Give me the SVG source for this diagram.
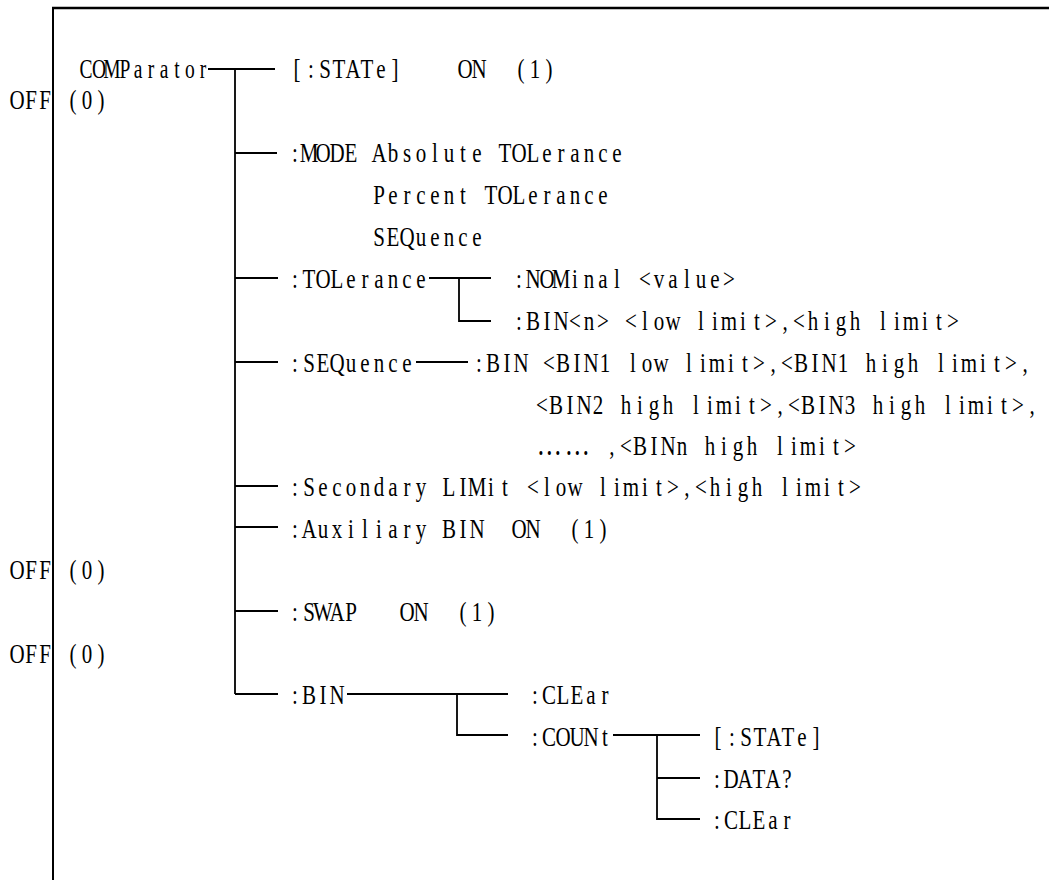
<svg xmlns="http://www.w3.org/2000/svg" width="1049" height="880" viewBox="0 0 1049 880">
<style>
.t{font-family:'Liberation Serif','Noto Sans CJK SC',serif;font-size:27px;fill:#000;text-anchor:middle}
.cjk{font-family:'Noto Sans CJK SC',sans-serif;font-size:29px}
.c{stroke:#000;stroke-width:1.8;fill:none}
.b{stroke:#000;fill:none}
</style>
<rect width="1049" height="880" fill="#fff"/>
<g id="frame">
<path class="b" stroke-width="2.4" d="M52 8H1049"/>
<path class="b" stroke-width="2" d="M53 7V880"/>
</g>
<g id="connectors">
<path class="c" d="M208 69H275M235 69V694M235 153H277M235 278H278M235 362H278M235 486H278M235 527H278M235 611H278M235 694H278"/>
<path class="c" d="M429 278H491M459 278V321H491"/>
<path class="c" d="M416 362H468"/>
<path class="c" d="M347 694H508M457 694V735H508"/>
<path class="c" d="M613 735H700M657 735V819H700M657 778H700"/>
</g>
<g id="comparator"><text class="t" xml:space="preserve" transform="translate(79.5 78) scale(0.7222 1)" x="9 27 45 63 81 99 117 135 153 171">COMParator</text></g>
<g id="state"><text class="t" xml:space="preserve" transform="translate(290 78) scale(0.7778 1)" x="9 27 45 63 81 99 117 135 153 171 189 207 225 243 261 279 297 315 333 351">[:STATe]    ON  (1)</text></g>
<g id="off1"><text class="t" xml:space="preserve" transform="translate(10 109) scale(0.7778 1)" x="9 27 45 63 81 99 117">OFF (0)</text></g>
<g id="mode">
<text class="t" xml:space="preserve" transform="translate(288 162) scale(0.7778 1)" x="9 27 45 63 81 99 117 135 153 171 189 207 225 243 261 279 297 315 333 351 369 387 405 423">:MODE Absolute TOLerance</text>
<text class="t" xml:space="preserve" transform="translate(372 204) scale(0.7778 1)" x="9 27 45 63 81 99 117 135 153 171 189 207 225 243 261 279 297">Percent TOLerance</text>
<text class="t" xml:space="preserve" transform="translate(372 246) scale(0.7778 1)" x="9 27 45 63 81 99 117 135">SEQuence</text>
</g>
<g id="tolerance"><text class="t" xml:space="preserve" transform="translate(288 288) scale(0.7778 1)" x="9 27 45 63 81 99 117 135 153 171">:TOLerance</text></g>
<g id="nominal"><text class="t" xml:space="preserve" transform="translate(512 288) scale(0.7778 1)" x="9 27 45 63 81 99 117 135 153 171 189 207 225 243 261 279">:NOMinal &lt;value&gt;</text></g>
<g id="tol-bin"><text class="t" xml:space="preserve" transform="translate(512 330) scale(0.7778 1)" x="9 27 45 63 81 99 117 135 153 171 189 207 225 243 261 279 297 315 333 351 369 387 405 423 441 459 477 495 513 531 549 567">:BIN&lt;n&gt; &lt;low limit&gt;,&lt;high limit&gt;</text></g>
<g id="sequence"><text class="t" xml:space="preserve" transform="translate(288 372) scale(0.7778 1)" x="9 27 45 63 81 99 117 135 153">:SEQuence</text></g>
<g id="seq-bin">
<text class="t" xml:space="preserve" transform="translate(472 372) scale(0.7778 1)" x="9 27 45 63 81 99 117 135 153 171 189 207 225 243 261 279 297 315 333 351 369 387 405 423 441 459 477 495 513 531 549 567 585 603 621 639 657 675 693 711">:BIN &lt;BIN1 low limit&gt;,&lt;BIN1 high limit&gt;,</text>
<text class="t" xml:space="preserve" transform="translate(535 413.5) scale(0.7778 1)" x="9 27 45 63 81 99 117 135 153 171 189 207 225 243 261 279 297 315 333 351 369 387 405 423 441 459 477 495 513 531 549 567 585 603 621 639">&lt;BIN2 high limit&gt;,&lt;BIN3 high limit&gt;,</text>
<text class="t" xml:space="preserve" transform="translate(535 455) scale(0.7778 1)" x="18 54 81 99 117 135 153 171 189 207 225 243 261 279 297 315 333 351 369 387 405"><tspan class="cjk">……</tspan> ,&lt;BINn high limit&gt;</text>
</g>
<g id="secondary"><text class="t" xml:space="preserve" transform="translate(288 496) scale(0.7778 1)" x="9 27 45 63 81 99 117 135 153 171 189 207 225 243 261 279 297 315 333 351 369 387 405 423 441 459 477 495 513 531 549 567 585 603 621 639 657 675 693 711 729">:Secondary LIMit &lt;low limit&gt;,&lt;high limit&gt;</text></g>
<g id="auxiliary"><text class="t" xml:space="preserve" transform="translate(288 538) scale(0.7778 1)" x="9 27 45 63 81 99 117 135 153 171 189 207 225 243 261 279 297 315 333 351 369 387 405">:Auxiliary BIN  ON  (1)</text></g>
<g id="off2"><text class="t" xml:space="preserve" transform="translate(10 579) scale(0.7778 1)" x="9 27 45 63 81 99 117">OFF (0)</text></g>
<g id="swap"><text class="t" xml:space="preserve" transform="translate(288 621) scale(0.7778 1)" x="9 27 45 63 81 99 117 135 153 171 189 207 225 243 261">:SWAP   ON  (1)</text></g>
<g id="off3"><text class="t" xml:space="preserve" transform="translate(10 663) scale(0.7778 1)" x="9 27 45 63 81 99 117">OFF (0)</text></g>
<g id="bin"><text class="t" xml:space="preserve" transform="translate(288 704) scale(0.7778 1)" x="9 27 45 63">:BIN</text></g>
<g id="bin-clear"><text class="t" xml:space="preserve" transform="translate(528 704) scale(0.7778 1)" x="9 27 45 63 81 99">:CLEar</text></g>
<g id="count"><text class="t" xml:space="preserve" transform="translate(528 746) scale(0.7778 1)" x="9 27 45 63 81 99">:COUNt</text></g>
<g id="count-state"><text class="t" xml:space="preserve" transform="translate(711 746) scale(0.7778 1)" x="9 27 45 63 81 99 117 135">[:STATe]</text></g>
<g id="count-data"><text class="t" xml:space="preserve" transform="translate(710 788) scale(0.7778 1)" x="9 27 45 63 81 99">:DATA?</text></g>
<g id="count-clear"><text class="t" xml:space="preserve" transform="translate(710 829) scale(0.7778 1)" x="9 27 45 63 81 99">:CLEar</text></g>
</svg>
